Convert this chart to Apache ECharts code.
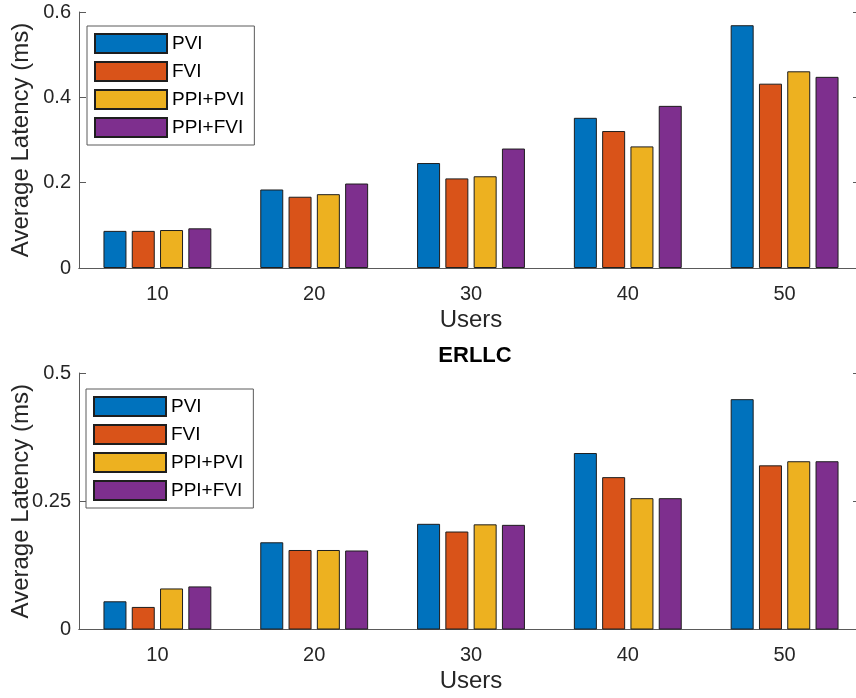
<!DOCTYPE html>
<html>
<head>
<meta charset="utf-8">
<title>Average Latency</title>
<script src="https://cdn.jsdelivr.net/npm/echarts@6/dist/echarts.min.js"></script>
<style>
  html, body { margin: 0; padding: 0; background: #fff; }
  #chart { width: 856px; height: 698px; }
</style>
</head>
<body>
<div id="chart"></div>
<script>
var users = ['10', '20', '30', '40', '50'];
var seriesNames = ['PVI', 'FVI', 'PPI+PVI', 'PPI+FVI'];
var colors = ['#0072BD', '#D95319', '#EDB120', '#7E2F8E'];

// top panel
var topPVI = [0.087, 0.184, 0.246, 0.352, 0.569];
var topFVI = [0.087, 0.167, 0.210, 0.321, 0.432];
var topPPIPVI = [0.089, 0.173, 0.215, 0.285, 0.461];
var topPPIFVI = [0.093, 0.198, 0.280, 0.380, 0.448];
var topTicks = [0, 0.2, 0.4, 0.6];

// bottom panel (ERLLC)
var botPVI = [0.055, 0.170, 0.206, 0.344, 0.449];
var botFVI = [0.044, 0.155, 0.191, 0.297, 0.320];
var botPPIPVI = [0.080, 0.155, 0.205, 0.256, 0.328];
var botPPIFVI = [0.084, 0.154, 0.204, 0.256, 0.328];
var botTicks = [0, 0.25, 0.5];

var font = 'Liberation Sans, Arial, Helvetica, sans-serif';
var axisColor = '#5a5a5a';
var textColor = '#262626';

function fmt(v) { return String(parseFloat(v.toFixed(2))); }

function xAxes(grid) {
    return [{
        gridIndex: grid, type: 'category', data: users, position: 'bottom',
        name: 'Users', nameLocation: 'middle', nameGap: 40,
        nameTextStyle: { fontFamily: font, fontSize: 24, color: textColor },
        axisLine: { lineStyle: { color: axisColor, width: 1 } },
        axisTick: { inside: true, alignWithLabel: true, length: 7, lineStyle: { color: axisColor } },
        axisLabel: { fontFamily: font, fontSize: 20, color: textColor, margin: 16 }
    }, {
        gridIndex: grid, type: 'category', data: users, position: 'top',
        axisLine: { lineStyle: { color: axisColor, width: 1 } },
        axisTick: { inside: true, alignWithLabel: true, length: 7, lineStyle: { color: axisColor } },
        axisLabel: { show: false }
    }];
}

function yAxes(grid, ticks) {
    var mx = ticks[ticks.length - 1], step = ticks[1] - ticks[0];
    return [{
        gridIndex: grid, type: 'value', min: 0, max: mx, interval: step, position: 'left',
        name: 'Average Latency (ms)', nameLocation: 'middle', nameGap: 46, nameMoveOverlap: false,
        nameTextStyle: { fontFamily: font, fontSize: 24, color: textColor },
        axisLine: { show: true, lineStyle: { color: axisColor, width: 1 } },
        axisTick: { show: true, inside: true, length: 7, lineStyle: { color: axisColor } },
        axisLabel: { fontFamily: font, fontSize: 20, color: textColor, margin: 8, formatter: fmt },
        splitLine: { show: false }
    }, {
        gridIndex: grid, type: 'value', min: 0, max: mx, interval: step, position: 'right',
        axisLine: { show: true, lineStyle: { color: axisColor, width: 1 } },
        axisTick: { show: true, inside: true, length: 10, lineStyle: { color: axisColor } },
        axisLabel: { show: false },
        splitLine: { show: false }
    }];
}

function $each(arr, fn) { for (var i = 0; i < arr.length; i++) fn(i, arr[i]); }

function bars(grid, lists) {
    var out = [];
    $each(lists, function (i, vals) {
        out.push({
            name: seriesNames[i], type: 'bar',
            xAxisIndex: grid * 2, yAxisIndex: grid * 2,
            data: vals, barWidth: 23, barGap: '23%',
            itemStyle: { color: colors[i], borderColor: '#1e1e1e', borderWidth: 1 }
        });
    });
    return out;
}

function legendAt(left, top) {
    return {
        data: seriesNames, orient: 'vertical', left: left, top: top,
        icon: 'rect', itemWidth: 72, itemHeight: 19, itemGap: 7,
        padding: [7, 10, 7, 7],
        borderColor: axisColor, borderWidth: 1, backgroundColor: '#fff',
        textStyle: { fontFamily: font, fontSize: 19, color: '#000' },
        selectedMode: false
    };
}

var chart = echarts.init(document.getElementById('chart'));
chart.setOption({
    animation: false,
    backgroundColor: '#fff',
    color: colors,
    title: {
        text: 'ERLLC', left: 470, top: 340, textAlign: 'center',
        textStyle: { fontFamily: font, fontSize: 22, fontWeight: 'bold', color: '#000' }
    },
    grid: [
        { left: 79, top: 12, width: 784, height: 256, outerBoundsMode: 'none', containLabel: false },
        { left: 79, top: 373, width: 784, height: 256.5, outerBoundsMode: 'none', containLabel: false }
    ],
    legend: [legendAt(87, 26), legendAt(86, 389)],
    xAxis: xAxes(0).concat(xAxes(1)),
    yAxis: yAxes(0, topTicks).concat(yAxes(1, botTicks)),
    series: bars(0, [topPVI, topFVI, topPPIPVI, topPPIFVI])
        .concat(bars(1, [botPVI, botFVI, botPPIPVI, botPPIFVI]))
});
</script>
</body>
</html>
